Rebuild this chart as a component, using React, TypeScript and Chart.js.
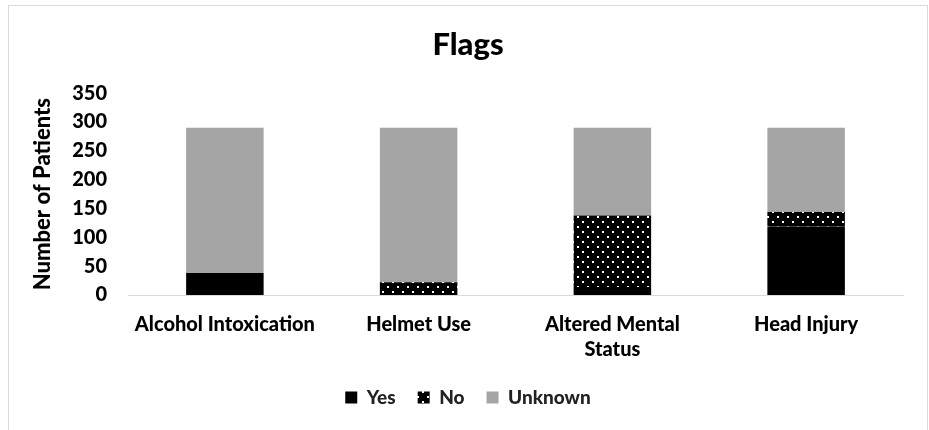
import { useEffect, useRef } from "react";
import { Chart, registerables } from "chart.js";

Chart.register(...registerables);

// Categories and stacked counts per flag
const categories: (string | string[])[] = [
  "Alcohol Intoxication",
  "Helmet Use",
  ["Altered Mental", "Status"],
  "Head Injury",
];
const yesValues = [38, 0, 14, 119];
const noValues = [0, 22, 124, 25];
const unknownValues = [252, 268, 152, 146];
const yMin = 0;
const yMax = 350;
const yStep = 50;

const FONT = "Lato, 'Open Sans', sans-serif";
const WEIGHT = 900;

// Black fill with a staggered grid of small white dots
function dottedPattern(): CanvasPattern | string {
  const c = document.createElement("canvas");
  c.width = 10;
  c.height = 10;
  const ctx = c.getContext("2d");
  if (!ctx) return "#000";
  ctx.fillStyle = "#000";
  ctx.fillRect(0, 0, 10, 10);
  ctx.fillStyle = "#fff";
  ctx.fillRect(2, 1, 2, 2);
  ctx.fillRect(7, 6, 2, 2);
  return ctx.createPattern(c, "repeat") || "#000";
}

export default function App() {
  const canvasRef = useRef<HTMLCanvasElement | null>(null);

  useEffect(() => {
    const canvas = canvasRef.current;
    if (!canvas) return;
    const chart = new Chart(canvas, {
      type: "bar",
      data: {
        labels: categories as any,
        datasets: [
          {
            label: "Yes",
            data: yesValues,
            backgroundColor: "#000000",
            borderWidth: 0,
          },
          {
            label: "No",
            data: noValues,
            backgroundColor: dottedPattern() as any,
            borderWidth: 0,
          },
          {
            label: "Unknown",
            data: unknownValues,
            backgroundColor: "#a5a5a5",
            borderWidth: 0,
          },
        ],
      },
      options: {
        animation: false,
        responsive: false,
        maintainAspectRatio: false,
        datasets: {
          bar: { categoryPercentage: 1, barPercentage: 0.4 },
        },
        layout: { padding: { left: 33, right: 26, top: 20, bottom: 0 } },
        plugins: {
          title: {
            display: true,
            text: "Flags",
            color: "#000",
            font: { family: FONT, size: 31, weight: WEIGHT },
            padding: { top: 6, bottom: 30 },
          },
          legend: {
            position: "bottom",
            labels: {
              boxWidth: 12,
              boxHeight: 12,
              padding: 22,
              color: "#222",
              font: { family: FONT, size: 19, weight: WEIGHT },
            },
          },
          tooltip: { enabled: false },
        },
        scales: {
          x: {
            stacked: true,
            grid: { display: false, drawTicks: false },
            border: { display: true, color: "#d9d9d9", width: 1 },
            ticks: {
              padding: 17,
              color: "#000",
              maxRotation: 0,
              autoSkip: false,
              font: { family: FONT, size: 20, weight: WEIGHT, lineHeight: 1.25 },
            },
            afterFit: (s: any) => {
              s.height = 71;
            },
          },
          y: {
            stacked: true,
            min: yMin,
            max: yMax,
            grid: { display: false, drawTicks: false },
            border: { display: false },
            ticks: {
              stepSize: yStep,
              padding: 21,
              color: "#000",
              font: { family: FONT, size: 20, weight: WEIGHT },
            },
            title: {
              display: true,
              text: "Number of Patients",
              color: "#000",
              font: { family: FONT, size: 22, weight: WEIGHT, lineHeight: 1 },
              padding: { top: -1, bottom: 0 },
            },
            afterFit: (s: any) => {
              s.width = 95;
            },
          },
        },
      },
    });
    return () => chart.destroy();
  }, []);

  return (
    <div
      style={{
        position: "fixed",
        left: 0,
        top: 0,
        width: 929,
        height: 430,
        overflow: "hidden",
        background: "#fff",
      }}
    >
      <div
        style={{
          position: "absolute",
          left: 8,
          top: 5,
          width: 920,
          height: 440,
          boxSizing: "border-box",
          border: "1px solid #d9d9d9",
        }}
      />
      <canvas
        ref={canvasRef}
        width={929}
        height={417}
        style={{ position: "absolute", left: 0, top: 0, width: 929, height: 417 }}
      />
    </div>
  );
}
